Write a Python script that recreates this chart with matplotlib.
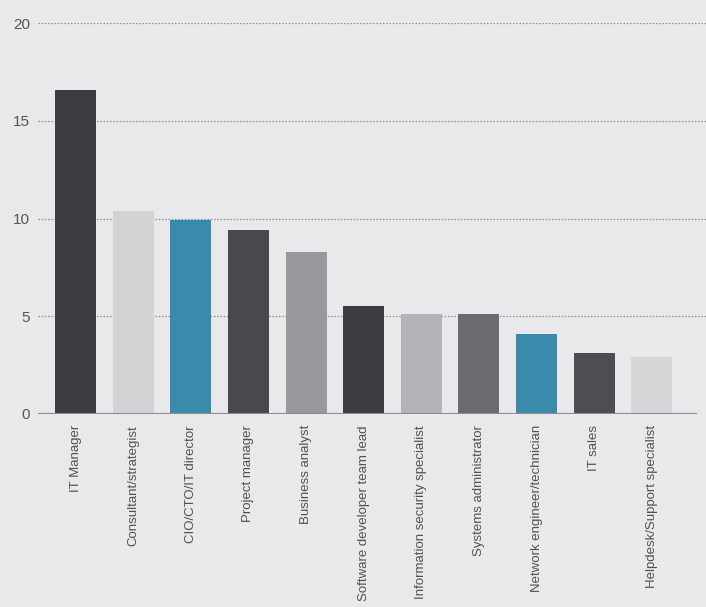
import matplotlib.pyplot as plt
import numpy as np

# Job roles and their share (%)
roles = [
    "IT Manager",
    "Consultant/strategist",
    "CIO/CTO/IT director",
    "Project manager",
    "Business analyst",
    "Software developer team lead",
    "Information security specialist",
    "Systems administrator",
    "Network engineer/technician",
    "IT sales",
    "Helpdesk/Support specialist",
]
values = [16.6, 10.4, 9.9, 9.4, 8.3, 5.5, 5.1, 5.1, 4.1, 3.1, 2.9]
yticks = [0, 5, 10, 15, 20]

colors = ["#3b3c41", "#d3d3d6", "#3a8aab", "#48494e", "#98989d", "#3c3d42",
          "#b4b4b8", "#6a6b70", "#3a8aab", "#4d4e53", "#d6d6d9"]

bg = "#e9e9eb"
fig = plt.figure(figsize=(7.06, 6.07), dpi=100, facecolor=bg)
ax = fig.add_axes([0.054, 0.318, 0.946, 0.644], facecolor=bg)

x = np.arange(len(roles))
ax.bar(x, values, width=0.71, color=colors, zorder=2)

# dotted guides
for y in yticks[1:]:
    ax.axhline(y, color="#8a8a8e", lw=0.9, ls=(0, (1.2, 1.4)), zorder=1)
ax.axhline(0, xmin=0, xmax=0.985, color="#8c8c90", lw=1.5, zorder=3)

ax.set_xlim(-0.65, len(roles) - 1 + 0.94)
ax.set_ylim(0, 20)
for s in ax.spines.values():
    s.set_visible(False)

fam = ["Liberation Sans Narrow", "Liberation Sans", "DejaVu Sans"]
ax.set_yticks(yticks)
ax.set_yticklabels([str(t) for t in yticks], family=fam, fontsize=11, color="#555558")
ax.set_xticks(x)
ax.set_xticklabels(roles, rotation=90, family=fam, fontsize=9.5, color="#505053",
                   va="top", ha="center")
ax.tick_params(length=0, axis="y", pad=6)
ax.tick_params(length=0, axis="x", pad=8)

fig.savefig("out.png", dpi=100, facecolor=bg)
